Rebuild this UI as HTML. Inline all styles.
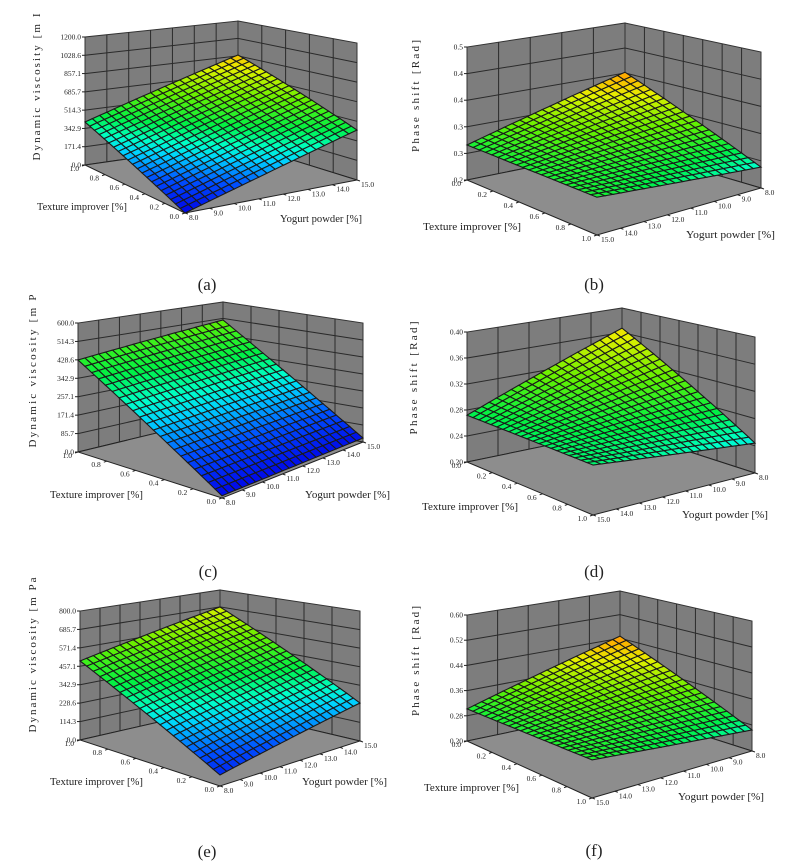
<!DOCTYPE html>
<html><head><meta charset="utf-8"><style>
html,body{margin:0;padding:0;background:#fff;}
svg{display:block;}
text{font-family:"Liberation Serif",serif;fill:#222;}
</style></head><body>
<svg id="fig" width="811" height="868" viewBox="0 0 811 868" xmlns="http://www.w3.org/2000/svg"></svg>
<script>
// ---- data: response at (texture, yogurt) = (0,8),(1,8),(0,15),(1,15) ----
const viscA = [0, 403, 438, 866];
const phaseB = [0.382, 0.246, 0.279, 0.281];
const viscC = [10, 428, 20, 506];
const phaseD = [0.367, 0.244, 0.272, 0.269];
const viscE = [63, 490, 234, 685];
const phaseF = [0.447, 0.265, 0.302, 0.309];
const zRangeA = [0, 1200], zRangeB = [0.2, 0.5], zRangeC = [0, 600];
const zRangeD = [0.2, 0.4], zRangeE = [0, 800], zRangeF = [0.2, 0.6];
const zTicksA = ["0.0","171.4","342.9","514.3","685.7","857.1","1028.6","1200.0"];
const zTicksB = ["0.2","0.3","0.3","0.4","0.4","0.5"];
const zTicksC = ["0.0","85.7","171.4","257.1","342.9","428.6","514.3","600.0"];
const zTicksD = ["0.20","0.24","0.28","0.32","0.36","0.40"];
const zTicksE = ["0.0","114.3","228.6","342.9","457.1","571.4","685.7","800.0"];
const zTicksF = ["0.20","0.28","0.36","0.44","0.52","0.60"];
const textureTicks = ["0.0","0.2","0.4","0.6","0.8","1.0"];
const yogurtTicks = ["8.0","9.0","10.0","11.0","12.0","13.0","14.0","15.0"];
const colorLimA=[0,1000], colorLimB=[0.17,0.40], colorLimC=[0,850], colorLimD=[0.17,0.41], colorLimE=[0,900], colorLimF=[0.15,0.47];

const NS="http://www.w3.org/2000/svg";
const svg=document.getElementById('fig');
function mk(tag,attrs,parent){const e=document.createElementNS(NS,tag);for(const k in attrs)e.setAttribute(k,attrs[k]);(parent||svg).appendChild(e);return e;}
const stops=[[0,[0,0,230]],[0.15,[0,80,255]],[0.27,[0,210,255]],[0.34,[0,255,200]],[0.44,[0,240,70]],[0.6,[100,240,0]],[0.78,[230,240,0]],[0.9,[255,170,0]],[1,[255,60,0]]];
function cmap(v){v=Math.max(0,Math.min(1,v));for(let i=1;i<stops.length;i++){if(v<=stops[i][0]){const a=stops[i-1],b=stops[i];const f=(v-a[0])/(b[0]-a[0]);const c=a[1].map((x,k)=>Math.round(x+(b[1][k]-x)*f));return `rgb(${c[0]},${c[1]},${c[2]})`;}}return 'rgb(255,60,0)';}

const panels=[
 {id:'a',vals:viscA,zr:zRangeA,zt:zTicksA,cl:colorLimA,flip:false,L:[85,165],F:[185,213],R:[357,180],B:[238,143],hL:128,hF:140,hR:137,hB:122,
  zt_:"Dynamic viscosity [m I",zx:36,zy:87,zl:147,tx:[37,210,90],yx:[280,222,82],cap:[207,290]},
 {id:'b',vals:phaseB,zr:zRangeB,zt:zTicksB,cl:colorLimB,flip:true,L:[467,180],F:[597,235],R:[761,188],B:[625,148],hL:133,hF:140,hR:136,hB:125,
  zt_:"Phase shift [Rad]",zx:415,zy:96,zl:112,tx:[423,230,98],yx:[686,238,89],cap:[594,290]},
 {id:'c',vals:viscC,zr:zRangeC,zt:zTicksC,cl:colorLimC,flip:false,L:[78,452],F:[222,498],R:[363,442],B:[223,417],hL:129,hF:135,hR:119,hB:115,
  zt_:"Dynamic viscosity [m P",zx:32,zy:371,zl:153,tx:[50,498,93],yx:[305,498,85],cap:[208,577]},
 {id:'d',vals:phaseD,zr:zRangeD,zt:zTicksD,cl:colorLimD,flip:true,L:[467,462],F:[593,515],R:[755,473],B:[622,430],hL:130,hF:145,hR:136,hB:122,
  zt_:"Phase shift [Rad]",zx:413,zy:378,zl:113,tx:[422,510,96],yx:[682,518,86],cap:[594,577]},
 {id:'e',vals:viscE,zr:zRangeE,zt:zTicksE,cl:colorLimE,flip:false,L:[80,740],F:[220,786],R:[360,741],B:[220,708],hL:129,hF:140,hR:130,hB:118,
  zt_:"Dynamic viscosity [m Pa",zx:32,zy:655,zl:155,tx:[50,785,93],yx:[302,785,85],cap:[207,857]},
 {id:'f',vals:phaseF,zr:zRangeF,zt:zTicksF,cl:colorLimF,flip:true,L:[467,741],F:[592,798],R:[752,751],B:[620,709],hL:126,hF:140,hR:130,hB:118,
  zt_:"Phase shift [Rad]",zx:415,zy:661,zl:110,tx:[424,791,95],yx:[678,800,86],cap:[594,856]}
];

panels.forEach(p=>{
 const g=mk('g',{});
 
 
 const bil=(a,b,c,d,s,t)=>a*(1-s)*(1-t)+b*s*(1-t)+c*(1-s)*t+d*s*t;
 function floorPt(s,t){return [bil(p.F[0],p.L[0],p.R[0],p.B[0],s,t),bil(p.F[1],p.L[1],p.R[1],p.B[1],s,t)];}
 function hgt(s,t){return bil(p.hF,p.hL,p.hR,p.hB,s,t);}
 function value(s,t){const tex=p.flip?1-s:s, yn=p.flip?1-t:t;const v=p.vals;return v[0]*(1-tex)*(1-yn)+v[1]*tex*(1-yn)+v[2]*(1-tex)*yn+v[3]*tex*yn;}
 function zScale(z,s,t){return (z-p.zr[0])/(p.zr[1]-p.zr[0])*hgt(s,t);}
 function proj(s,t,z){const f=floorPt(s,t);return [f[0],f[1]-zScale(z,s,t)];}
 const pts=a=>a.map(q=>q[0].toFixed(1)+','+q[1].toFixed(1)).join(' ');
 const zmax=p.zr[1],zmin=p.zr[0];
 const lw=mk('polygon',{points:pts([proj(1,0,zmin),proj(1,1,zmin),proj(1,1,zmax),proj(1,0,zmax)]),fill:'#7d7d7d',stroke:'#333','stroke-width':1},g);
 
 
 const rw=mk('polygon',{points:pts([proj(1,1,zmin),proj(0,1,zmin),proj(0,1,zmax),proj(1,1,zmax)]),fill:'#7d7d7d',stroke:'#333','stroke-width':1},g);
 
 
 const fl=mk('polygon',{points:pts([proj(0,0,zmin),proj(1,0,zmin),proj(1,1,zmin),proj(0,1,zmin)]),fill:'#8d8d8d',stroke:'#222','stroke-width':1},g);
 
 
 const nz=p.zt.length-1;
 const nLeft=p.flip?5:7, nRight=p.flip?7:5;
 for(let k=1;k<nz;k++){const z=zmin+(zmax-zmin)*k/nz;
  mk('polyline',{points:pts([proj(1,0,z),proj(1,1,z),proj(0,1,z)]),fill:'none',stroke:'#2a2a2a','stroke-width':1},g);}
 for(let k=1;k<nLeft;k++){const t=k/nLeft;mk('line',{x1:proj(1,t,zmin)[0],y1:proj(1,t,zmin)[1],x2:proj(1,t,zmax)[0],y2:proj(1,t,zmax)[1],stroke:'#2a2a2a','stroke-width':1},g);}
 for(let k=1;k<nRight;k++){const s=k/nRight;mk('line',{x1:proj(s,1,zmin)[0],y1:proj(s,1,zmin)[1],x2:proj(s,1,zmax)[0],y2:proj(s,1,zmax)[1],stroke:'#2a2a2a','stroke-width':1},g);}
 p.zt.forEach((lab,k)=>{const z=zmin+(zmax-zmin)*k/nz;const q=proj(1,0,z);
  mk('line',{x1:q[0]-3,y1:q[1],x2:q[0],y2:q[1],stroke:'#222','stroke-width':1},g);
  const t=mk('text',{x:q[0]-4,y:q[1]+2.5,'font-size':7.5,'text-anchor':'end'},g);t.textContent=lab;
  
  });
 textureTicks.forEach((lab,k)=>{const s=p.flip?1-k/5:k/5;const q=proj(s,0,zmin);
  mk('line',{x1:q[0],y1:q[1],x2:q[0]-3,y2:q[1]+1,stroke:'#222','stroke-width':1},g);
  const t=mk('text',{x:q[0]-6,y:q[1]+6,'font-size':7.5,'text-anchor':'end'},g);t.textContent=lab;
  
  });
 yogurtTicks.forEach((lab,k)=>{const t0=p.flip?1-k/7:k/7;const q=proj(0,t0,zmin);
  mk('line',{x1:q[0],y1:q[1],x2:q[0]+3,y2:q[1]+1,stroke:'#222','stroke-width':1},g);
  const t=mk('text',{x:q[0]+4,y:q[1]+7,'font-size':7.5,'text-anchor':'start'},g);t.textContent=lab;
  
  });
 const N=21;const cells=[];
 for(let i=0;i<N;i++)for(let j=0;j<N;j++)cells.push([i,j]);
 cells.sort((a,b)=>(b[0]+b[1])-(a[0]+a[1]));
 const sg=mk('g',{},g);
 
 
 cells.forEach(([i,j])=>{const s0=i/N,s1=(i+1)/N,t0=j/N,t1=(j+1)/N;
  const c=[[s0,t0],[s1,t0],[s1,t1],[s0,t1]];
  const vs=c.map(q=>value(q[0],q[1]));const avg=vs.reduce((a,b)=>a+b)/4;
  const poly=mk('polygon',{points:pts(c.map((q,k)=>proj(q[0],q[1],vs[k]))),fill:cmap((avg-p.cl[0])/(p.cl[1]-p.cl[0])),stroke:'#1a1a1a','stroke-width':1.1},sg);
  
  });
 const zt=mk('text',{x:0,y:0,'font-size':11,'text-anchor':'middle',textLength:p.zl,lengthAdjust:'spacing',transform:`translate(${p.zx+4},${p.zy}) rotate(-90)`},g);
 zt.textContent=p.zt_;
 
 
 const tt=mk('text',{x:p.tx[0],y:p.tx[1],'font-size':10.5,textLength:p.tx[2],lengthAdjust:'spacingAndGlyphs'},g);
 tt.textContent="Texture improver [%]";
 
 
 const yt=mk('text',{x:p.yx[0],y:p.yx[1],'font-size':10.5,textLength:p.yx[2],lengthAdjust:'spacingAndGlyphs'},g);
 yt.textContent="Yogurt powder [%]";
 
 
 const cp=mk('text',{x:p.cap[0],y:p.cap[1],'font-size':17,'text-anchor':'middle'},g);
 cp.textContent='('+p.id+')';
 
 
});
</script>
</body></html>
